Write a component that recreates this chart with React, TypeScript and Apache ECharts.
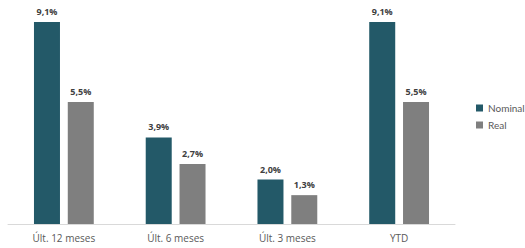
import React, { useEffect, useRef } from "react";
import * as echarts from "echarts";

const categories = ["Últ. 12 meses", "Últ. 6 meses", "Últ. 3 meses", "YTD"];
const nominal = [9.1, 3.9, 2.0, 9.1];
const real = [5.5, 2.7, 1.3, 5.5];
const seriesNames = ["Nominal", "Real"];

const fmt = (v: number) => v.toFixed(1).replace(".", ",") + "%";

export default function App() {
  const ref = useRef<HTMLDivElement>(null);
  useEffect(() => {
    if (!ref.current) return;
    const chart = echarts.init(ref.current, undefined, { renderer: "svg" });
    const font = "'Open Sans', 'DejaVu Sans', sans-serif";
    const label = {
      show: true,
      position: "top" as const,
      distance: 6,
      fontSize: 9,
      fontWeight: "bold" as const,
      color: "#404040",
      fontFamily: font,
      formatter: (p: any) => fmt(p.value),
    };
    chart.setOption({
      animation: false,
      grid: { left: 8, right: 70, top: 22, bottom: 24, containLabel: false },
      legend: {
        orient: "vertical",
        left: 471,
        top: 98,
        itemWidth: 7,
        itemHeight: 7,
        itemGap: 7,
        icon: "rect",
        textStyle: { fontSize: 10, color: "#595959", fontFamily: "Lato, 'Open Sans', sans-serif" },
        data: seriesNames,
      },
      xAxis: {
        type: "category",
        data: categories,
        axisLine: { lineStyle: { color: "#d9d9d9", width: 1 } },
        axisTick: { show: false },
        axisLabel: { fontSize: 10, color: "#595959", fontFamily: font, margin: 9 },
      },
      yAxis: {
        type: "value",
        min: 0,
        max: 9.1,
        show: false,
        splitLine: { show: false },
      },
      series: [
        {
          name: seriesNames[0],
          type: "bar",
          data: nominal,
          barWidth: 26,
          barGap: "30%",
          itemStyle: { color: "#235968" },
          label,
        },
        {
          name: seriesNames[1],
          type: "bar",
          data: real,
          barWidth: 26,
          itemStyle: { color: "#7f7f7f" },
          label,
        },
      ],
    });
    return () => chart.dispose();
  }, []);
  return <div ref={ref} style={{ width: 525, height: 248, position: "absolute", left: 0, top: 0 }} />;
}
